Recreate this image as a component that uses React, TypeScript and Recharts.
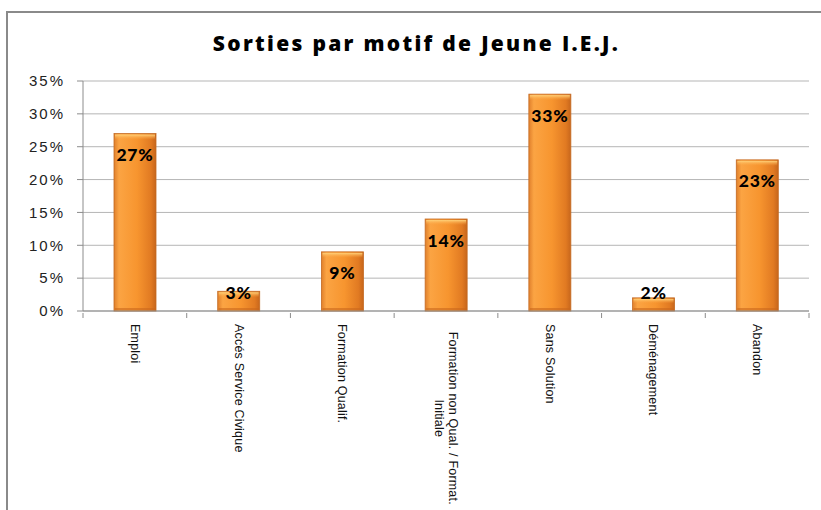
import React from "react";
import { Bar, BarChart, CartesianGrid, LabelList, XAxis, YAxis } from "recharts";

const categories = [
  "Emploi",
  "Accés Service Civique",
  "Formation Qualif.",
  "Formation non Qual. / Format.\nInitiale",
  "Sans Solution",
  "Déménagement",
  "Abandon",
];
const shares = [27, 3, 9, 14, 33, 2, 23];
const yTicks = [0, 5, 10, 15, 20, 25, 30, 35];

const data = categories.map((name, i) => ({ name, share: shares[i] }));

const AXIS_GRAY = "#8c8c8c";

function BevelBar(props: any) {
  const { x, y, width, height } = props;
  if (!height || height <= 0) return null;
  const cap = Math.min(5, height / 3);
  return (
    <g>
      <rect x={x} y={y} width={width} height={height} fill="url(#barBody)" stroke="#c46a22" strokeWidth={0.8} />
      <rect x={x + 1} y={y + 1} width={width - 2} height={cap} fill="url(#barCap)" />
      <rect x={x + 1} y={y + height - 3} width={width - 2} height={2} fill="#c9671c" opacity={0.6} />
    </g>
  );
}

function ValueLabel(props: any) {
  const { x, y, width, height, value } = props;
  const cy = Math.min(y + 21, y + height - 19);
  return (
    <text
      x={x + width / 2}
      y={cy}
      textAnchor="middle"
      dominantBaseline="central"
      fontFamily="Lato, 'Open Sans', sans-serif"
      fontWeight={900}
      fontSize={17.5}
      letterSpacing={0.8}
      fill="#000"
    >
      {`${value}%`}
    </text>
  );
}

function CategoryTick(props: any) {
  const { x, y, payload } = props;
  const half = payload.offset ?? 51.8;
  const lines = String(payload.value).split("\n");
  const top = y + 11;
  const longest = Math.max(...lines.map((l) => l.length));
  const span = longest * 6.5;
  return (
    <g>
      <line x1={x + half} y1={y} x2={x + half} y2={y + 5} stroke={AXIS_GRAY} />
      {payload.index === 0 && <line x1={x - half} y1={y} x2={x - half} y2={y + 5} stroke={AXIS_GRAY} />}
      {lines.map((line, i) => {
        const cx = x + (lines.length - 1) * 7 - i * 14;
        const multi = lines.length > 1;
        const ty = multi ? top + span / 2 : top;
        return (
          <text
            key={i}
            x={0}
            y={0}
            transform={`translate(${cx},${ty}) rotate(90)`}
            textAnchor={multi ? "middle" : "start"}
            dominantBaseline="central"
            fontFamily="'Liberation Sans', Arial, sans-serif"
            fontSize={12.5}
            letterSpacing={0.2}
            fill="#111"
          >
            {line}
          </text>
        );
      })}
    </g>
  );
}

export default function App() {
  return (
    <div
      style={{
        position: "absolute",
        left: 0,
        top: 0,
        width: 821,
        height: 510,
        background: "#fff",
        overflow: "hidden",
      }}
    >
      <div
        style={{
          position: "absolute",
          left: 6,
          top: 11,
          width: 900,
          height: 600,
          borderLeft: "2px solid #8a8a8a",
          borderTop: "2px solid #8a8a8a",
        }}
      />
      <div
        style={{
          position: "absolute",
          left: 6,
          top: 28,
          width: 821,
          textAlign: "center",
          fontFamily: "'Open Sans', Lato, sans-serif",
          fontWeight: 800,
          fontSize: 21,
          letterSpacing: 2.3,
          color: "#000",
          lineHeight: "30px",
        }}
      >
        Sorties par motif de Jeune I.E.J.
      </div>
      <div style={{ position: "absolute", left: 0, top: 0 }}>
        <BarChart
          width={821}
          height={510}
          data={data}
          margin={{ top: 81, right: 12, left: 23, bottom: 0 }}
        >
          <defs>
            <linearGradient id="barBody" x1="0" y1="0" x2="1" y2="0">
              <stop offset="0%" stopColor="#e0802c" />
              <stop offset="12%" stopColor="#fba443" />
              <stop offset="55%" stopColor="#f7952f" />
              <stop offset="88%" stopColor="#e17a22" />
              <stop offset="100%" stopColor="#c7661c" />
            </linearGradient>
            <linearGradient id="barCap" x1="0" y1="0" x2="0" y2="1">
              <stop offset="0%" stopColor="#ffd27a" />
              <stop offset="100%" stopColor="#fba443" stopOpacity={0} />
            </linearGradient>
          </defs>
          <CartesianGrid stroke="#b5b5b5" vertical={false} />
          <XAxis
            dataKey="name"
            height={199}
            interval={0}
            tickLine={false}
            tickSize={0}
            stroke={AXIS_GRAY}
            tick={<CategoryTick />}
          />
          <YAxis
            width={60}
            domain={[0, 35]}
            ticks={yTicks}
            tickFormatter={(v: number) => `${v}%`}
            tickSize={6}
            tickMargin={12}
            stroke={AXIS_GRAY}
            tick={{
              fill: "#222",
              fontSize: 15,
              fontFamily: "'Liberation Sans', Arial, sans-serif",
              letterSpacing: 2,
            }}
          />
          <Bar dataKey="share" barSize={42} shape={<BevelBar />} isAnimationActive={false}>
            <LabelList dataKey="share" content={<ValueLabel />} />
          </Bar>
        </BarChart>
      </div>
    </div>
  );
}
